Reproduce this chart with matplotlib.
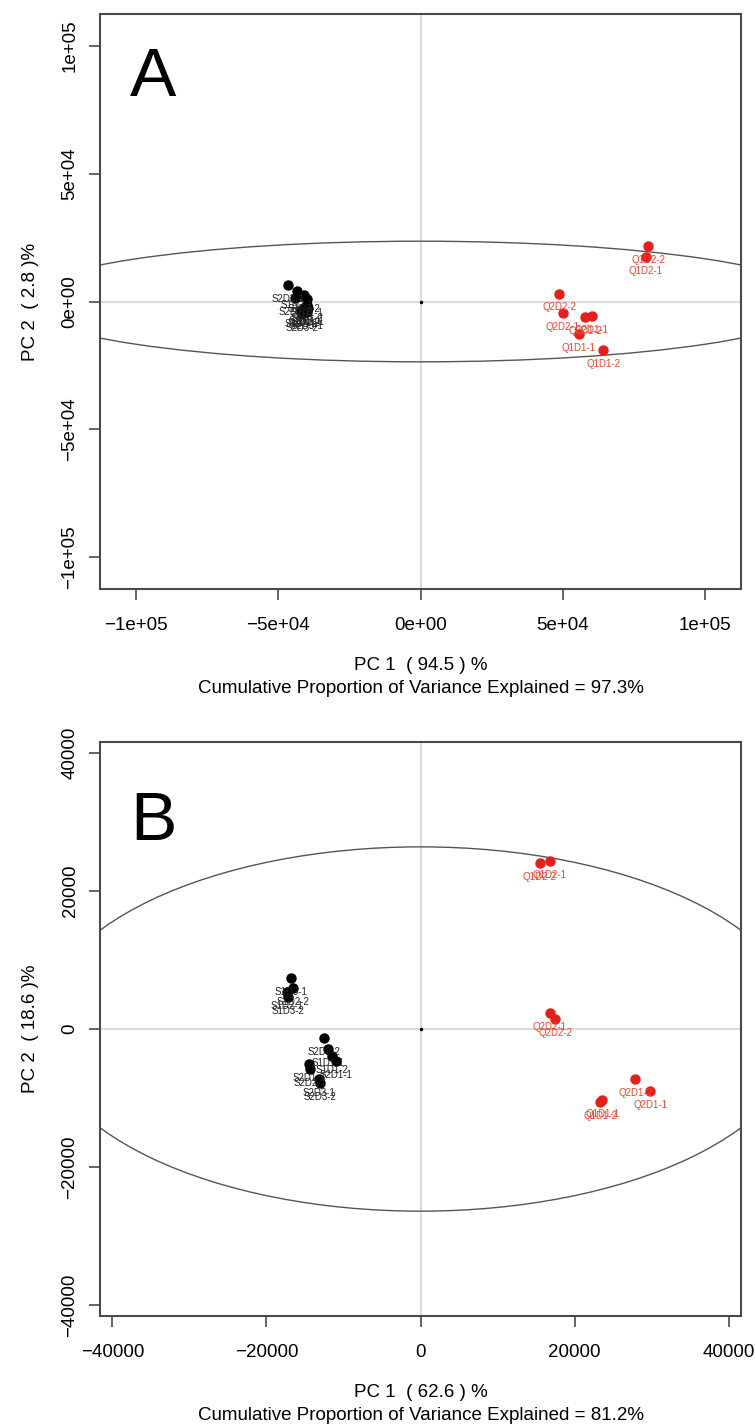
#!/usr/bin/env python3
import matplotlib.pyplot as plt
import numpy as np
from matplotlib.patches import Ellipse

plt.rcParams["font.family"] = ["Liberation Sans", "DejaVu Sans"]

# ---- panel A scores (PC1, PC2) ----
black_names = ["S1D1-1", "S1D1-2", "S1D2-1", "S1D2-2", "S1D3-1", "S1D3-2",
               "S2D1-1", "S2D1-2", "S2D2-1", "S2D2-2", "S2D3-1", "S2D3-2"]
red_names = ["Q1D1-1", "Q1D1-2", "Q1D2-1", "Q1D2-2",
             "Q2D1-1", "Q2D1-2", "Q2D2-1", "Q2D2-2"]

a_black_pc1 = [-40000, -39800, -43300, -41000, -40500, -42000,
               -39500, -41000, -46500, -44000, -40000, -41500]
a_black_pc2 = [800, -1200, 4000, 2500, -2000, -3500,
               -2500, -3000, 6600, 1500, -4000, -5000]
a_red_pc1 = [55500, 64200, 79100, 79900, 60100, 57800, 50000, 48700]
a_red_pc2 = [-12900, -19100, 17500, 21600, -5700, -6100, -4400, 3100]

# ---- panel B scores ----
b_black_pc1 = [-12000, -11500, -17300, -16600, -16800, -17200,
               -11000, -14500, -14300, -12500, -13200, -13000]
b_black_pc2 = [-2950, -3900, 5400, 6000, 7450, 4600,
               -4650, -5100, -5800, -1350, -7300, -7800]
b_red_pc1 = [23600, 23300, 16750, 15500, 29800, 27900, 16800, 17500]
b_red_pc2 = [-10350, -10600, 24400, 24100, -9000, -7300, 2370, 1500]

# variance explained
a_pc1_var, a_pc2_var, a_cum = 94.5, 2.8, 97.3
b_pc1_var, b_pc2_var, b_cum = 62.6, 18.6, 81.2

# confidence ellipse half axes
a_ell = (141500, 23600)
b_ell = (49500, 26400)

a_ticks = [-100000, -50000, 0, 50000, 100000]
a_ticklabels = ["\u22121e+05", "\u22125e+04", "0e+00", "5e+04", "1e+05"]
b_ticks = [-40000, -20000, 0, 20000, 40000]
b_ticklabels = ["\u221240000", "\u221220000", "0", "20000", "40000"]

SPINE = "#4a4a4a"
RED = "#e5201c"
RED_TXT = "#e8452f"
FS = 13.5


def draw_panel(ax, bx, by, rx, ry, ell, lim, ticks, ticklabels,
               pc1, pc2, cum, letter, letter_y):
    ax.axhline(0, color="#dcdcdc", lw=1.5, zorder=0)
    ax.axvline(0, color="#dcdcdc", lw=1.5, zorder=0)
    ax.add_patch(Ellipse((0, 0), 2 * ell[0], 2 * ell[1], fill=False,
                         ec="#555555", lw=1.0, zorder=1))
    ax.plot([0], [0], "o", color="black", ms=1.5, zorder=2)

    ax.plot(bx, by, "o", color="black", ms=6.5, zorder=3)
    ax.plot(rx, ry, "o", color=RED, ms=6.5, zorder=3)
    for x, y, n in zip(bx, by, black_names):
        ax.annotate(n, (x, y), xytext=(0, -10), textcoords="offset points",
                    ha="center", va="center", fontsize=7, color="#222222",
                    zorder=4)
    for x, y, n in zip(rx, ry, red_names):
        ax.annotate(n, (x, y), xytext=(0, -10), textcoords="offset points",
                    ha="center", va="center", fontsize=7, color=RED_TXT,
                    zorder=4)

    ax.set_xlim(-lim, lim)
    ax.set_ylim(-lim, lim)
    ax.set_xticks(ticks)
    ax.set_xticklabels(ticklabels, fontsize=FS)
    ax.set_yticks(ticks)
    ax.set_yticklabels(ticklabels, fontsize=FS, rotation=90, va="center")
    ax.tick_params(direction="out", length=8, width=1.2, color=SPINE)
    ax.tick_params(axis="x", pad=12)
    ax.tick_params(axis="y", pad=7.5)
    for s in ax.spines.values():
        s.set_color(SPINE)
        s.set_linewidth(1.5)

    ax.set_xlabel("PC 1  ( %.1f ) %%\nCumulative Proportion of Variance "
                  "Explained = %.1f%%" % (pc1, cum), fontsize=FS,
                  labelpad=17, linespacing=1.4)
    ax.set_ylabel("PC 2  ( %.1f )%%" % pc2, fontsize=FS, labelpad=16)
    ax.text(0.047, letter_y, letter, transform=ax.transAxes, fontsize=50,
            va="baseline", ha="left")


def main():
    fig = plt.figure(figsize=(7.55, 14.28), dpi=100)
    ax_a = fig.add_axes([0.1325, 0.5875, 0.849, 0.4027])
    ax_b = fig.add_axes([0.1325, 0.0784, 0.849, 0.402])

    draw_panel(ax_a, a_black_pc1, a_black_pc2, a_red_pc1, a_red_pc2, a_ell,
               112500, a_ticks, a_ticklabels, a_pc1_var, a_pc2_var, a_cum,
               "A", 0.857)
    draw_panel(ax_b, b_black_pc1, b_black_pc2, b_red_pc1, b_red_pc2, b_ell,
               41600, b_ticks, b_ticklabels, b_pc1_var, b_pc2_var, b_cum,
               "B", 0.83)

    fig.savefig("out.png", dpi=100)


if __name__ == "__main__":
    main()
